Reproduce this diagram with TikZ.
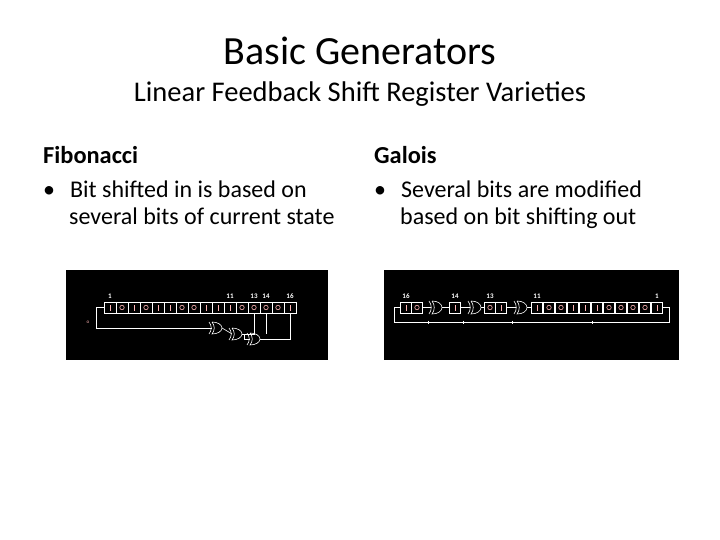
\documentclass[tikz,border=0pt]{standalone}
\usepackage{fontspec}
\setmainfont{Carlito}
\tikzset{
  cell/.style={draw=white,line width=0.6pt,minimum width=12pt,minimum height=11pt,inner sep=0pt},
  wire/.style={draw=white,line width=0.6pt},
  bitc/.style={draw=pink!70!red!60!white,line width=0.6pt},
  num/.style={white,anchor=base,font=\fontsize{7}{7}\selectfont\bfseries},
  bullets/.style={anchor=base west,inner sep=0pt,font=\fontsize{24}{28}\selectfont}
}
% one bit mark inside a cell: 1 = bar, 0 = ring
\newcommand{\bitmark}[2]{%
  \ifnum#2=1 \draw[bitc] ([yshift=-3pt]#1.center) -- ([yshift=3pt]#1.center);
  \else \draw[bitc] (#1.center) circle (2.2pt); \fi}
\begin{document}
\begin{tikzpicture}[x=1pt,y=-1pt]
\useasboundingbox (0,0) rectangle (720,540);
% titles
\node (title) at (360,51) {\fontsize{40}{40}\selectfont Basic Generators};
\node (sub) at (360,94) {\fontsize{28.5}{28.5}\selectfont Linear Feedback Shift Register Varieties};
\node[anchor=west,inner sep=0pt] (fib) at (43,155) {\fontsize{24.4}{24.4}\selectfont\bfseries Fibonacci};
\node[anchor=west,inner sep=0pt] (gal) at (374,155) {\fontsize{24.4}{24.4}\selectfont\bfseries Galois};
\node[bullets] (fibtxt) at (43,197) {\textbullet\hspace{15pt}Bit shifted in is based on};
\node[bullets] (fibtxt2) at (69,225) {several bits of current state};
\node[bullets] (galtxt) at (374,197) {\textbullet\hspace{15pt}Several bits are modified};
\node[bullets] (galtxt2) at (400,225) {based on bit shifting out};

% Fibonacci panel
\fill[black] (66,270) rectangle (328,360);
\foreach \b [count=\i] in {1,0,1,0,1,1,0,0,1,1,1,0,0,0,0,1} {
  \node[cell] (f\i) at (98+12*\i,307.5) {};
  \bitmark{f\i}{\b}
}
\foreach \i/\t in {1/1,11/11,13/13,14/14,16/16}
  \node[num] (fl\i) at (f\i.center |- 298,298) {\t};
\node[text=pink!70!red!60!white,font=\tiny] (seed) at (88,322) {o};
% gates (output on the left)
\foreach \n/\x/\y in {ga/216/328,gb/236/334,gc/254/339} {
  \draw[wire] (\x-4,\y-6) .. controls (\x+2,\y-6) and (\x+6,\y-3) .. (\x+6,\y)
     .. controls (\x+6,\y+3) and (\x+2,\y+6) .. (\x-4,\y+6)
     .. controls (\x-1,\y+2) and (\x-1,\y-2) .. (\x-4,\y-6);
  \draw[wire] (\x-7,\y-6) .. controls (\x-4,\y-2) and (\x-4,\y+2) .. (\x-7,\y+6);
  \coordinate (in-\n) at (\x-4,\y);
  \coordinate (out-\n) at (\x+6,\y);
}
\draw[wire] (in-ga) -- (96,328) |- (f1.west);
\draw[wire] (f13.south) |- (out-gb);
\draw[wire] (in-gb) -- (out-ga);
\draw[wire] (f14.south) -- (f14.south |- 334,334);
\draw[wire] (in-gc) -- ++(-6,0) |- (out-gb);
\draw[wire] (f16.south) |- (out-gc);

% Galois panel
\fill[black] (384,270) rectangle (679,360);
\foreach \b/\x [count=\i] in {1/406,0/417,1/455,0/490,1/501,1/537,0/549,0/561,1/573,1/585,1/597,0/609,0/621,0/633,0/645,1/657} {
  \node[cell,minimum width=11.5pt] (g\i) at (\x,307.5) {};
  \bitmark{g\i}{\b}
}
\foreach \i/\t in {1/16,3/14,4/13,6/11,16/1}
  \node[num] (gl\i) at (g\i.center |- 298,298) {\t};
\foreach \n/\x in {xa/436,xb/475,xc/521} {
  \draw[wire] (\x-4,301) .. controls (\x+2,301) and (\x+6,304) .. (\x+6,307.5)
     .. controls (\x+6,311) and (\x+2,314) .. (\x-4,314)
     .. controls (\x-1,310) and (\x-1,305) .. (\x-4,301);
  \draw[wire] (\x-7,301) .. controls (\x-4,305) and (\x-4,310) .. (\x-7,314);
  \coordinate (in-\n) at (\x-5,307.5);
  \coordinate (out-\n) at (\x+6,307.5);
}
\draw[wire] (g2.east) -- (in-xa);
\draw[wire] (out-xa) -- (g3.west);
\draw[wire] (g3.east) -- (in-xb);
\draw[wire] (out-xb) -- (g4.west);
\draw[wire] (g5.east) -- (in-xc);
\draw[wire] (out-xc) -- (g6.west);
\draw[wire] (g16.east) -- (669,307.5) |- (394,322) |- (g1.west);
\foreach \x in {428,463,512,592}
  \draw[wire] (\x,320.5) -- (\x,323.5);
\end{tikzpicture}
\end{document}
